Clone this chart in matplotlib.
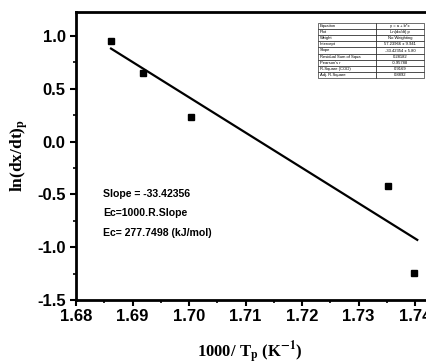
import matplotlib.pyplot as plt
import numpy as np
from matplotlib.ticker import MultipleLocator

# data
inv_tp = [1.6862, 1.6919, 1.7004, 1.7352, 1.7398]
ln_rate = [0.955, 0.65, 0.235, -0.42, -1.245]
intercept = 57.23966
slope = -33.42354

table_keys = ["Equation", "Plot", "Weight", "Intercept", "Slope",
              "Residual Sum of Squa", "Pearson's r", "R-Square (COD)", "Adj. R-Square"]
table_vals = ["y = a + b*x", "Ln(dx/dt) p", "No Weighting", "57.23966 \u00b1 9.941",
              "-33.42354 \u00b1 5.80", "0.28182", "-0.95788", "0.9169", "0.8892"]

notes = ["Slope = -33.42356", "Ec=1000.R.Slope", "Ec= 277.7498 (kJ/mol)"]

plt.rcParams['font.family'] = ['Liberation Sans', 'DejaVu Sans']

fig = plt.figure(figsize=(4.26, 3.64), dpi=100)
ax = fig.add_axes([76/426, 64/364, 356/426, 288/364])

ax.plot(inv_tp, ln_rate, 's', color='black', markersize=4.5)
xf = np.array([inv_tp[0], inv_tp[-1] + 0.0006])
ax.plot(xf, intercept + slope * xf, color='black', lw=1.6)

ax.set_xlim(1.68, 1.68 + 356/5650)
ax.set_ylim(-1.5, 1.0 + 24/105.6)
ax.xaxis.set_major_locator(MultipleLocator(0.01))
ax.xaxis.set_minor_locator(MultipleLocator(0.005))
ax.yaxis.set_major_locator(MultipleLocator(0.5))
ax.yaxis.set_minor_locator(MultipleLocator(0.25))
ax.xaxis.set_major_formatter(plt.FormatStrFormatter('%.2f'))
ax.yaxis.set_major_formatter(plt.FormatStrFormatter('%.1f'))

for s in ax.spines.values():
    s.set_linewidth(2)
ax.tick_params(which='major', direction='out', length=4, width=1.5, labelsize=12)
ax.tick_params(which='minor', direction='out', length=2.5, width=1.2)
ax.tick_params(axis='x', pad=2.5)
for lab in ax.get_xticklabels() + ax.get_yticklabels():
    lab.set_fontweight('bold')

fig.text(250/426, 1 - 352/364, r'1000/ T$_\mathbf{p}$ (K$^{\mathbf{-1}}$)',
         ha='center', va='center', fontsize=12, fontweight='bold',
         family='Liberation Serif', math_fontfamily='stix')
fig.text(20/426, 1 - 155/364, r'ln(dx/dt)$_\mathbf{p}$', rotation=90,
         ha='center', va='center', fontsize=12.5, fontweight='bold',
         family='Liberation Serif', math_fontfamily='stix')

for i, t in enumerate(notes):
    fig.text(103/426, 1 - (194 + 19.5 * i)/364, t, ha='left', va='center',
             fontsize=7.6, fontweight='bold')

tab = fig.add_axes([318/426, 1 - 78/364, 106/426, 55/364])
tab.axis('off')
t = tab.table(cellText=[[k, v] for k, v in zip(table_keys, table_vals)],
              colWidths=[0.55, 0.45], bbox=[0, 0, 1, 1], cellLoc='left')
t.auto_set_font_size(False)
for (r, c), cell in t.get_celld().items():
    cell.set_fontsize(3)
    cell.set_linewidth(0.4)
    cell.PAD = 0.03
    if c == 1:
        cell.get_text().set_ha('center')
        cell._loc = 'center'

fig.savefig('out.png', dpi=100)
